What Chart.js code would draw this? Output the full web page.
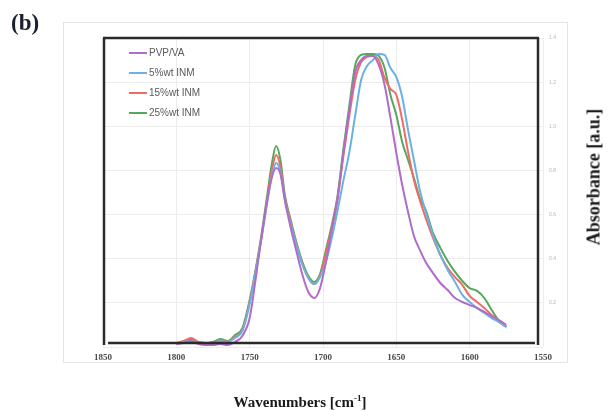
<!DOCTYPE html>
<html>
<head>
<meta charset="utf-8">
<script src="https://cdn.jsdelivr.net/npm/chart.js@4/dist/chart.umd.min.js"></script>
<style>
html,body{margin:0;padding:0;background:#fff;}
#wrap{position:relative;width:611px;height:411px;overflow:hidden;background:#fff;}
#c{position:absolute;left:0;top:0;}
.t{position:absolute;font-family:"Liberation Serif","DejaVu Serif",serif;font-weight:bold;color:#1a1a1a;white-space:nowrap;}
#lb{left:11px;top:10px;font-size:23px;color:#1a2030;}
#xt{left:300px;top:402px;font-size:15px;transform:translate(-50%,-50%);}
#yt{left:594px;top:177px;font-size:18px;transform:translate(-50%,-50%) rotate(-90deg);}
</style>
</head>
<body>
<div id="wrap">
<canvas id="c" width="611" height="411"></canvas>
<div class="t" id="lb">(b)</div>
<div class="t" id="xt">Wavenumbers [cm<sup style="font-size:9px">-1</sup>]</div>
<div class="t" id="yt">Absorbance [a.u.]</div>
</div>
<script>
const wavenumbers = [1800,1795,1790,1785,1780,1775,1770,1765,1760,1755,1750,1746,1742,1738,1735,1732,1729,1726,1722,1718,1714,1710,1706,1702,1698,1694,1690,1686,1682,1678,1674,1670,1666,1662,1658,1654,1650,1646,1642,1638,1634,1630,1625,1620,1615,1610,1605,1600,1595,1590,1585,1580,1575];

const seriesLabels = ["PVP/VA","5%wt INM","15%wt INM","25%wt INM"];

const pvpva = [0.014,0.018,0.027,0.014,0.009,0.009,0.014,0.009,0.023,0.050,0.131,0.304,0.494,0.666,0.766,0.811,0.784,0.666,0.539,0.430,0.326,0.249,0.222,0.267,0.385,0.530,0.675,0.884,1.074,1.246,1.300,1.319,1.319,1.278,1.187,1.038,0.879,0.734,0.612,0.503,0.440,0.385,0.335,0.290,0.258,0.222,0.204,0.190,0.177,0.159,0.140,0.122,0.100];

const inm5 = [0.018,0.023,0.027,0.018,0.018,0.018,0.027,0.023,0.041,0.072,0.195,0.335,0.490,0.655,0.770,0.834,0.793,0.666,0.557,0.458,0.372,0.313,0.285,0.317,0.385,0.494,0.621,0.757,0.884,1.051,1.210,1.273,1.300,1.328,1.323,1.264,1.223,1.133,0.983,0.847,0.711,0.612,0.507,0.417,0.349,0.295,0.236,0.204,0.177,0.154,0.131,0.113,0.091];

const inm15 = [0.018,0.027,0.041,0.023,0.018,0.018,0.032,0.023,0.045,0.077,0.204,0.340,0.495,0.670,0.795,0.870,0.816,0.675,0.566,0.462,0.376,0.313,0.285,0.322,0.421,0.539,0.675,0.870,1.051,1.210,1.291,1.314,1.319,1.300,1.219,1.169,1.142,1.029,0.884,0.757,0.666,0.585,0.494,0.417,0.358,0.317,0.281,0.231,0.204,0.177,0.145,0.113,0.091];

const inm25 = [0.018,0.023,0.036,0.023,0.018,0.023,0.036,0.027,0.054,0.086,0.213,0.349,0.507,0.689,0.825,0.911,0.847,0.689,0.575,0.471,0.385,0.322,0.295,0.331,0.440,0.553,0.689,0.902,1.096,1.278,1.323,1.328,1.328,1.319,1.264,1.142,1.051,0.929,0.847,0.766,0.675,0.621,0.517,0.449,0.390,0.340,0.299,0.267,0.254,0.222,0.168,0.118,0.091];

const xTicks = [1850,1800,1750,1700,1650,1600,1550];
const yTicks = [0,0.2,0.4,0.6,0.8,1.0,1.2,1.4];

const colors = ["#b06cc6","#69b2e3","#f26a66","#55a85a"];
const seriesValues = [pvpva, inm5, inm15, inm25];

function pts(arr){ return wavenumbers.map((w,i)=>({x:w,y:arr[i]})); }

const datasets = seriesValues.map((arr,i)=>({
  label: seriesLabels[i],
  data: pts(arr),
  borderColor: colors[i],
  borderWidth: 2,
  pointRadius: 0,
  fill: false,
  tension: 0.4,
  cubicInterpolationMode: 'monotone'
}));

const framePlugin = {
  id: 'frame',
  beforeDraw(chart){
    const ctx = chart.ctx;
    ctx.save();
    ctx.fillStyle = '#fff';
    ctx.fillRect(0,0,chart.width,chart.height);
    ctx.strokeStyle = '#e4e4e4';
    ctx.lineWidth = 1;
    ctx.strokeRect(63.5,22.5,504,340);
    ctx.restore();
  },
  afterDatasetsDraw(chart){
    const ctx = chart.ctx;
    const a = chart.chartArea;
    ctx.save();
    ctx.strokeStyle = '#2a2a2a';
    ctx.lineWidth = 2.5;
    ctx.beginPath();
    ctx.moveTo(a.left+1, a.top);
    ctx.lineTo(a.left+1, a.bottom-2);
    ctx.moveTo(a.left+5, a.bottom-4);
    ctx.lineTo(a.right-8, a.bottom-4);
    ctx.moveTo(a.right-5, a.top);
    ctx.lineTo(a.right-5, a.bottom-2);
    ctx.moveTo(a.left, a.top);
    ctx.lineTo(a.right-4, a.top);
    ctx.stroke();
    // legend
    ctx.font = '10px "Liberation Sans", Arial, sans-serif';
    ctx.textBaseline = 'middle';
    chart.data.datasets.forEach((ds,i)=>{
      const y = 53 + i*20;
      ctx.strokeStyle = ds.borderColor;
      ctx.lineWidth = 2;
      ctx.beginPath();
      ctx.moveTo(129,y); ctx.lineTo(147,y);
      ctx.stroke();
      ctx.fillStyle = '#5a5a5a';
      ctx.fillText(ds.label, 149, y+0.5);
    });
    ctx.restore();
  }
};

new Chart(document.getElementById('c'), {
  type: 'line',
  data: { datasets },
  options: {
    responsive: false,
    devicePixelRatio: 1,
    animation: false,
    layout: { padding: { left: 103, top: 38, right: 0, bottom: 0 } },
    plugins: { legend: { display: false }, tooltip: { enabled: false } },
    scales: {
      x: {
        type: 'linear',
        reverse: true,
        min: 1550, max: 1850,
        afterBuildTicks(s){ s.ticks = xTicks.map(v=>({value:v})); },
        afterFit(s){ s.height = 64; },
        grid: { color: '#ececec', drawTicks: false },
        border: { display: false },
        ticks: {
          autoSkip: false, maxRotation: 0, padding: 5,
          color: '#4a4a4a',
          font: { family: '"Liberation Serif", serif', weight: 'bold', size: 9 },
          callback: (v)=> String(v)
        }
      },
      y: {
        position: 'right',
        min: 0, max: 1.4,
        afterBuildTicks(s){ s.ticks = yTicks.map(v=>({value:v})); },
        afterFit(s){ s.width = 68; },
        grid: { color: '#ececec', drawTicks: false },
        border: { display: false },
        ticks: {
          padding: 6,
          color: '#b5b5b5',
          font: { family: '"Liberation Sans", sans-serif', size: 5 },
          callback: (v)=> v===0 ? '' : v.toFixed(1)
        }
      }
    }
  },
  plugins: [framePlugin]
});
</script>
</body>
</html>
